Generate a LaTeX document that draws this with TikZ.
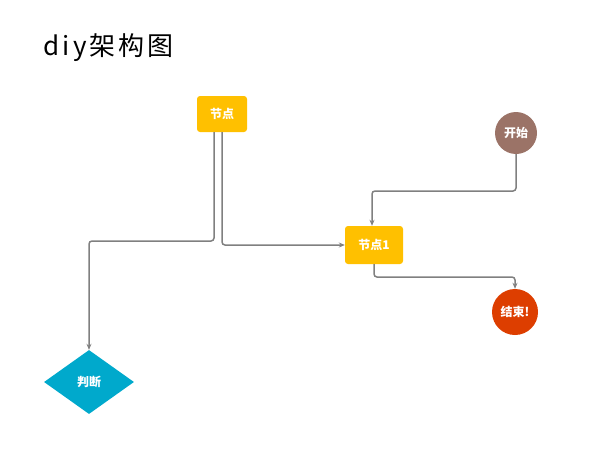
\documentclass[tikz,border=0pt]{standalone}
\usepackage{fontspec}
\newfontfamily\cjk{Noto Sans CJK SC}
\newfontfamily\cjktitle[LetterSpace=12]{Noto Sans CJK SC}
\usetikzlibrary{shapes.geometric, arrows.meta}
\definecolor{nodeyellow}{HTML}{FFC000}
\definecolor{startbrown}{HTML}{9B7367}
\definecolor{endred}{HTML}{DD3E00}
\definecolor{decideblue}{HTML}{00A9CC}
\tikzset{
    boxstyle/.style={fill=nodeyellow, rounded corners=3pt, minimum width=50pt, minimum height=36pt, text=white, font=\cjk\bfseries\fontsize{12}{14}\selectfont},
    circstyle/.style={circle, inner sep=0pt, text=white, font=\cjk\bfseries\fontsize{12}{14}\selectfont},
    diamstyle/.style={diamond, aspect=1.4, fill=decideblue, minimum width=90pt, minimum height=64pt, inner sep=0pt, text=white, font=\cjk\bfseries\fontsize{12}{14}\selectfont},
    linkstyle/.style={draw=gray, line width=1.5pt, rounded corners=3pt, -{Stealth[length=6pt,width=5pt]}}
}
\begin{document}
\begin{tikzpicture}[x=1pt, y=-1pt]
    \useasboundingbox (0,0) rectangle (612,455);

    % title
    \node[anchor=west, font=\cjktitle\fontsize{26}{30}\selectfont] (title) at (40,48) {diy架构图};

    % nodes
    \node[boxstyle] (jd) at (222,114) {节点};
    \node[circstyle, fill=startbrown, minimum size=42pt] (ks) at (516,133) {开始};
    \node[boxstyle, minimum width=58pt, minimum height=38pt] (jd1) at (374,245) {节点1};
    \node[circstyle, fill=endred, minimum size=46pt] (js) at (515,312) {结束!};
    \node[diamstyle] (pd) at (89,382) {判断};

    % links
    \draw[linkstyle] ([xshift=-8pt]jd.south) |- (150,241) -| (pd.north);
    \draw[linkstyle] ([xshift=0pt]jd.south) |- (jd1.west);
    \draw[linkstyle] (ks.south) |- (440,191) -| ([xshift=-2pt]jd1.north);
    \draw[linkstyle] (jd1.south) |- (450,277) -| (js.north);
\end{tikzpicture}
\end{document}
